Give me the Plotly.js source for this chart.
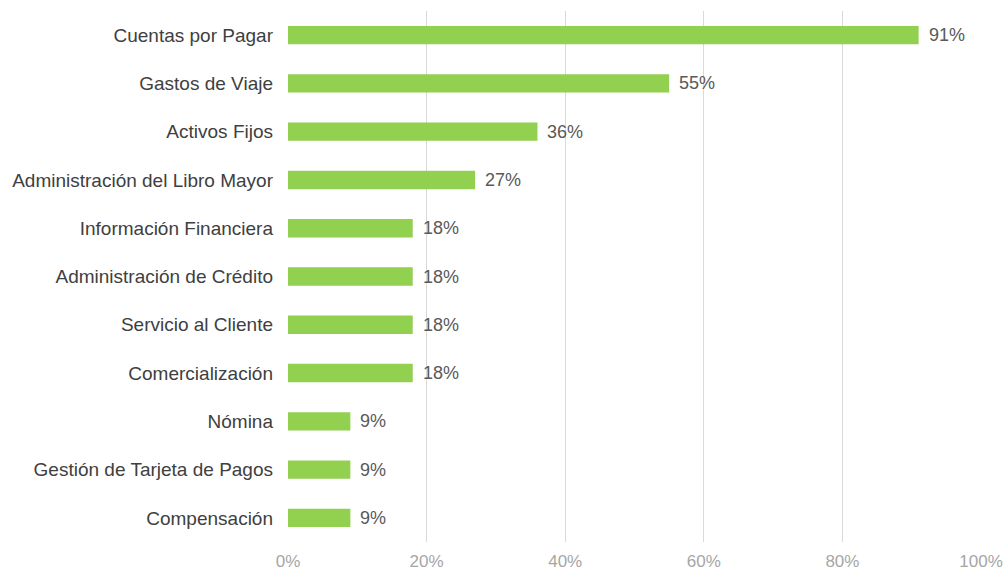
<!DOCTYPE html>
<html>
<head>
<meta charset="utf-8">
<script src="https://cdn.plot.ly/plotly-3.0.1.min.js"></script>
<style>
html,body{margin:0;padding:0;background:#fff;}
#chart{width:1006px;height:571px;}
</style>
</head>
<body>
<div id="chart"></div>
<script>
const categories = [
  "Cuentas por Pagar",
  "Gastos de Viaje",
  "Activos Fijos",
  "Administración del Libro Mayor",
  "Información Financiera",
  "Administración de Crédito",
  "Servicio al Cliente",
  "Comercialización",
  "Nómina",
  "Gestión de Tarjeta de Pagos",
  "Compensación"
];
const values = [91, 55, 36, 27, 18, 18, 18, 18, 9, 9, 9];
const xTickVals = [0, 20, 40, 60, 80, 100];
const xTickText = ["0%", "20%", "40%", "60%", "80%", "100%"];

const trace = {
  type: 'bar',
  orientation: 'h',
  x: values,
  y: categories,
  marker: {color: '#92D050'},
  hoverinfo: 'skip'
};

const annotations = categories.map((c, i) => ({
  x: values[i],
  y: c,
  xref: 'x',
  yref: 'y',
  text: values[i] + '%',
  showarrow: false,
  xanchor: 'left',
  yanchor: 'middle',
  xshift: 8,
  font: {family: 'Liberation Sans, Arial, sans-serif', size: 18, color: '#595959'}
}));

const layout = {
  width: 1006,
  height: 571,
  margin: {l: 288, r: 25, t: 11, b: 29, pad: 0},
  paper_bgcolor: '#ffffff',
  plot_bgcolor: '#ffffff',
  showlegend: false,
  bargap: 0.62,
  font: {family: 'Liberation Sans, Arial, sans-serif'},
  xaxis: {
    range: [0, 100],
    tickvals: xTickVals,
    ticktext: xTickText,
    showgrid: true,
    gridcolor: '#D9D9D9',
    gridwidth: 1,
    zeroline: false,
    showline: false,
    ticks: '',
    ticklabelstandoff: 7,
    tickfont: {family: 'Liberation Sans, Arial, sans-serif', size: 17, color: '#A6A6A6'},
    fixedrange: true
  },
  yaxis: {
    autorange: 'reversed',
    type: 'category',
    showgrid: false,
    zeroline: false,
    showline: false,
    ticks: '',
    ticklabelstandoff: 14,
    tickfont: {family: 'Liberation Sans, Arial, sans-serif', size: 19, color: '#404040'},
    fixedrange: true
  },
  annotations: annotations
};

Plotly.newPlot('chart', [trace], layout, {displayModeBar: false, staticPlot: true});
</script>
</body>
</html>
